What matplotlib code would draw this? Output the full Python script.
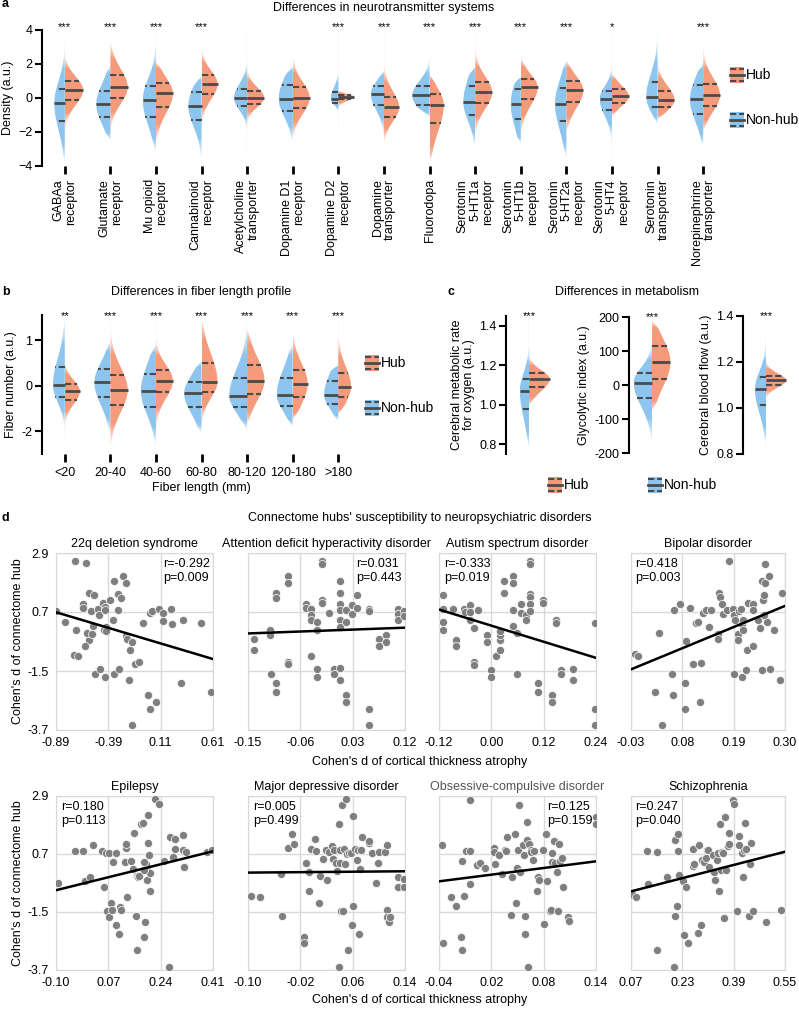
import numpy as np
import matplotlib
matplotlib.use('Agg')
import matplotlib.pyplot as plt
from matplotlib.patches import Polygon, Rectangle
from matplotlib.colors import to_rgb

plt.rcParams['font.family'] = ['Liberation Sans', 'DejaVu Sans']
plt.rcParams['font.size'] = 9

W, H = 799, 1010
BLUE = '#8dc5ee'
ORANGE = '#f59a7b'
LINE = '#4a4a4a'
DASH = (0, (3, 1.4))

# ---- panel a: neurotransmitter systems, [lo, q1, median, q3, hi, half width]
nt_labels = ['GABAa\nreceptor', 'Glutamate\nreceptor', 'Mu opioid\nreceptor',
             'Cannabinoid\nreceptor', 'Acetylcholine\ntransporter', 'Dopamine D1\nreceptor',
             'Dopamine D2\nreceptor', 'Dopamine\ntransporter', 'Fluorodopa',
             'Serotonin\n5-HT1a\nreceptor', 'Serotonin\n5-HT1b\nreceptor',
             'Serotonin\n5-HT2a\nreceptor', 'Serotonin\n5-HT4\nreceptor',
             'Serotonin\ntransporter', 'Norepinephrine\ntransporter']
nt_stars = ['***', '***', '***', '***', '', '', '***', '***', '***', '***', '***', '***', '*', '', '***']
nt_nonhub = [[-4.0, -1.35, -0.31, 0.55, 3.5, 0.23],
             [-2.5, -1.14, -0.37, 0.43, 1.9, 0.31],
             [-3.25, -1.10, -0.12, 0.71, 3.9, 0.29],
             [-4.0, -1.29, -0.47, 0.33, 1.3, 0.29],
             [-3.45, -0.47, 0.0, 0.55, 4.0, 0.29],
             [-2.67, -0.76, -0.04, 0.78, 1.84, 0.31],
             [-1.7, -0.27, -0.06, 0.37, 4.0, 0.17],
             [-2.5, -0.39, 0.24, 0.71, 1.65, 0.29],
             [-1.1, -0.41, 0.16, 0.71, 4.0, 0.38],
             [-2.96, -0.98, -0.22, 0.71, 1.84, 0.26],
             [-2.67, -1.25, -0.33, 0.51, 1.25, 0.22],
             [-3.55, -1.35, -0.33, 0.57, 2.24, 0.25],
             [-3.65, -0.71, -0.06, 0.43, 4.0, 0.27],
             [-1.6, -0.51, 0.06, 0.96, 4.0, 0.25],
             [-2.86, -0.94, -0.08, 0.75, 2.04, 0.29]]
nt_hub = [[-2.5, -0.12, 0.47, 1.0, 2.6, 0.40],
          [-2.5, -0.02, 0.63, 1.35, 3.5, 0.38],
          [-2.7, -0.51, 0.27, 0.9, 2.2, 0.37],
          [-1.9, 0.22, 0.82, 1.35, 3.2, 0.35],
          [-1.9, -0.35, 0.02, 0.43, 1.84, 0.37],
          [-2.5, -0.61, 0.02, 0.63, 2.6, 0.37],
          [-0.7, -0.08, 0.08, 0.18, 1.16, 0.34],
          [-2.9, -1.10, -0.55, 0.08, 3.8, 0.33],
          [-3.85, -1.45, -0.39, 0.24, 1.45, 0.31],
          [-2.5, -0.31, 0.33, 0.96, 3.9, 0.37],
          [-2.27, -0.08, 0.63, 1.14, 2.5, 0.37],
          [-2.08, -0.24, 0.45, 1.0, 2.24, 0.37],
          [-1.1, -0.27, 0.10, 0.51, 1.45, 0.37],
          [-1.3, -0.53, -0.12, 0.43, 2.5, 0.37],
          [-2.08, -0.47, 0.16, 0.84, 3.2, 0.37]]

# ---- panel b: fiber length profile
fl_labels = ['<20', '20-40', '40-60', '60-80', '80-120', '120-180', '>180']
fl_stars = ['**', '***', '***', '***', '***', '***', '***']
fl_nonhub = [[-1.13, -0.24, 0.01, 0.40, 1.53, 0.26],
             [-1.06, -0.26, 0.07, 0.36, 0.99, 0.35],
             [-1.35, -0.46, -0.12, 0.26, 0.91, 0.33],
             [-1.05, -0.46, -0.17, 0.09, 0.55, 0.38],
             [-1.0, -0.47, -0.22, 0.17, 1.53, 0.39],
             [-0.92, -0.44, -0.20, 0.17, 0.91, 0.35],
             [-0.78, -0.40, -0.20, 0.11, 0.45, 0.31]]
fl_hub = [[-1.51, -0.31, -0.12, 0.04, 0.77, 0.33],
          [-1.42, -0.42, -0.09, 0.24, 1.53, 0.38],
          [-1.06, -0.15, 0.11, 0.34, 1.53, 0.37],
          [-1.06, -0.15, 0.09, 0.49, 1.53, 0.35],
          [-0.91, -0.18, 0.11, 0.45, 1.28, 0.38],
          [-0.77, -0.26, 0.04, 0.34, 1.53, 0.33],
          [-0.66, -0.26, -0.02, 0.27, 1.53, 0.28]]

# ---- panel c: metabolism
met_labels = ['Cerebral metabolic rate\nfor oxygen (a.u.)', 'Glycolytic index (a.u.)',
              'Cerebral blood flow (a.u.)']
met_nonhub = [[0.77, 0.98, 1.07, 1.13, 1.43, 0.20],
              [-171, -39, 7, 36, 151, 0.40],
              [0.83, 1.012, 1.081, 1.133, 1.33, 0.24]]
met_hub = [[0.99, 1.09, 1.13, 1.16, 1.29, 0.45],
           [-78, 19, 67, 114, 192, 0.40],
           [0.99, 1.10, 1.12, 1.14, 1.24, 0.44]]
met_ylim = [(0.75, 1.45), (-200, 200), (0.8, 1.4)]
met_yticks = [[0.8, 1.0, 1.2, 1.4], [-200, -100, 0, 100, 200], [0.8, 1.0, 1.2, 1.4]]

# ---- panel d: disorders, (atrophy d, hub d) pairs
dis_names = ['22q deletion syndrome', 'Attention deficit hyperactivity disorder',
             'Autism spectrum disorder', 'Bipolar disorder', 'Epilepsy',
             'Major depressive disorder', 'Obsessive-compulsive disorder', 'Schizophrenia']
dis_r = ['-0.292', '0.031', '-0.333', '0.418', '0.180', '0.005', '0.125', '0.247']
dis_p = ['0.009', '0.443', '0.019', '0.003', '0.113', '0.499', '0.159', '0.040']
dis_text_right = [True, True, False, False, False, False, True, False]
dis_xticks = [[-0.89, -0.39, 0.11, 0.61], [-0.15, -0.06, 0.03, 0.12],
              [-0.12, 0.00, 0.12, 0.24], [-0.03, 0.08, 0.19, 0.30],
              [-0.10, 0.07, 0.24, 0.41], [-0.10, -0.02, 0.06, 0.14],
              [-0.04, 0.02, 0.08, 0.14], [0.07, 0.23, 0.39, 0.55]]
hub_yticks = [-3.7, -1.5, 0.7, 2.9]

pts_22q = [(-0.89, 0.74), (-0.80, 0.32), (-0.70, 0.02), (-0.72, -0.89), (-0.68, -0.94), (-0.63, 1.01),
           (-0.63, 0.85), (-0.60, 2.52), (-0.71, 2.62), (-0.57, 1.42), (-0.53, 1.32), (-0.56, 0.74),
           (-0.57, -0.35), (-0.59, -0.08), (-0.61, -0.57), (-0.55, -0.13), (-0.54, 0.17), (-0.49, 0.82),
           (-0.48, 0.58), (-0.44, 1.03), (-0.42, 0.89), (-0.42, 0.76), (-0.41, 0.14), (-0.43, 0.04),
           (-0.41, 0.00), (-0.37, 1.13), (-0.35, 0.42), (-0.34, 1.85), (-0.30, 1.38), (-0.27, 1.23),
           (-0.30, 0.76), (-0.25, 2.06), (-0.22, 1.78), (-0.22, -0.18), (-0.21, -0.29), (-0.16, -0.40),
           (-0.18, -0.70), (-0.14, -1.24), (-0.10, -1.18), (-0.19, -1.85), (-0.52, -1.62), (-0.47, -1.44),
           (-0.42, -1.71), (-0.34, -1.62), (-0.29, -1.43), (-0.06, 0.29), (-0.01, -2.40), (0.01, -2.91),
           (0.01, 0.66), (0.03, 0.74), (0.07, -2.64), (0.09, 0.81), (0.13, 0.66), (0.13, 0.38),
           (0.21, 0.80), (0.22, 0.26), (0.32, 0.39), (0.30, -1.96), (0.50, 0.29), (0.59, -2.30),
           (-0.16, -3.53)]
pts_adhd = [(-0.140, -0.31), (-0.140, -0.72), (-0.112, 0.02), (-0.112, -0.17), (-0.111, -1.62),
            (-0.102, -1.96), (-0.102, -2.29), (-0.102, 1.40), (-0.102, 1.23), (-0.081, 2.06),
            (-0.081, 1.78), (-0.081, -1.15), (-0.081, -1.25), (-0.051, 1.01), (-0.051, 0.86),
            (-0.042, 0.80), (-0.042, 0.58), (-0.042, 0.39), (-0.041, -0.93), (-0.031, 0.33),
            (-0.031, 0.02), (-0.031, -1.43), (-0.031, -1.71), (-0.022, 2.62), (-0.022, 2.49),
            (-0.022, 1.13), (-0.022, 1.03), (-0.011, 0.68), (-0.002, -1.43), (-0.002, -1.62),
            (0.008, 1.84), (0.008, 1.42), (0.008, 1.01), (0.008, 0.76), (0.008, 0.39), (0.008, 0.14),
            (0.008, -1.40), (0.008, -1.83), (0.018, 0.79), (0.018, 0.33), (0.018, -2.39), (0.018, -2.64),
            (0.028, 0.97), (0.028, 0.64), (0.038, 1.32), (0.038, 0.85), (0.058, 0.80), (0.058, 0.74),
            (0.058, -2.91), (0.058, -3.53), (0.076, -0.31), (0.076, -0.57), (0.088, -0.17),
            (0.088, -0.41), (0.108, 0.80), (0.108, 0.64), (0.108, 0.39), (0.118, 0.75), (0.118, 0.55)]
pts_asd = [(-0.111, 1.32), (-0.111, 0.82), (-0.111, 0.33), (-0.111, 0.02), (-0.089, 0.82), (-0.080, -0.33),
           (-0.080, -0.57), (-0.063, 0.82), (-0.061, 0.70), (-0.050, 0.97), (-0.050, 0.70), (-0.050, 0.39),
           (-0.040, 0.11), (-0.040, -1.15), (-0.040, -1.28), (-0.030, 0.76), (-0.010, -0.17),
           (-0.010, -0.41), (0.000, -1.46), (0.000, -1.71), (0.010, -0.93), (0.019, -0.72), (0.019, -0.33),
           (0.019, -0.17), (0.019, -0.02), (0.029, 1.85), (0.029, 1.42), (0.049, 2.06), (0.049, 1.78),
           (0.049, 0.76), (0.050, 0.17), (0.059, -0.08), (0.059, -1.62), (0.069, 1.01), (0.069, 0.66),
           (0.079, 0.58), (0.079, 0.42), (0.088, 2.62), (0.088, 2.49), (0.088, 1.38), (0.088, 1.26),
           (0.088, 1.01), (0.088, 0.74), (0.119, 1.16), (0.119, 1.03), (0.148, 0.42), (0.148, 0.29),
           (0.159, -1.46), (0.159, -1.62), (0.108, -1.96), (0.108, -2.29), (0.140, -2.39), (0.140, -2.64),
           (0.188, -1.43), (0.188, -1.83), (0.238, 0.29), (0.238, -2.91), (0.238, -3.53)]
pts_bd = [(-0.021, -0.88), (-0.015, -0.94), (0.029, -0.07), (0.057, -1.62), (0.022, -2.30), (0.059, -2.39),
          (0.063, 0.76), (0.075, 1.01), (0.085, -1.96), (0.085, -2.91), (0.087, -0.39), (0.096, 0.86),
          (0.102, -1.25), (0.109, 0.29), (0.114, 0.33), (0.119, -1.19), (0.117, -2.64), (0.124, 0.66),
          (0.130, 0.79), (0.137, 0.14), (0.141, 0.76), (0.156, -0.13), (0.156, -0.31), (0.158, 1.42),
          (0.161, 1.26), (0.165, 1.01), (0.167, 0.64), (0.175, 0.76), (0.181, 2.62), (0.188, 0.82),
          (0.190, -1.62), (0.190, 0.58), (0.192, 0.42), (0.199, -0.13), (0.199, -0.35), (0.201, 0.74),
          (0.206, 0.82), (0.208, -1.71), (0.208, 0.27), (0.209, 0.42), (0.209, 0.02), (0.216, -1.46),
          (0.219, -0.72), (0.220, 1.03), (0.231, -0.57), (0.232, 1.01), (0.232, 0.76), (0.243, 0.39),
          (0.247, 0.11), (0.250, -1.46), (0.250, 1.87), (0.252, 1.13), (0.255, 1.32), (0.258, 1.78),
          (0.258, 2.49), (0.262, 0.33), (0.266, 2.06), (0.267, -1.43), (0.277, 0.02), (0.289, -1.83),
          (0.294, 1.42), (0.037, -3.53), (0.254, 0.58)]
pts_ep = [(-0.094, -0.41), (-0.039, 0.83), (-0.012, 0.83), (-0.006, -0.31), (0.010, -0.16), (0.021, 1.04),
          (0.049, 0.81), (0.055, -0.56), (0.063, 0.73), (0.071, 0.73), (0.066, -1.46), (0.071, -1.68),
          (0.079, -1.17), (0.082, -1.42), (0.085, 0.41), (0.094, 0.73), (0.108, -1.30), (0.112, -1.42),
          (0.096, -1.99), (0.106, -2.33), (0.123, 0.41), (0.126, 0.91), (0.127, 1.08), (0.132, -0.94),
          (0.143, 0.45), (0.154, 1.48), (0.151, 0.12), (0.159, -1.65), (0.163, -0.13), (0.165, -0.18),
          (0.170, -0.13), (0.176, 1.84), (0.183, 1.89), (0.187, -2.44), (0.189, -1.87), (0.193, 0.32),
          (0.195, 0.09), (0.196, -0.29), (0.198, 2.18), (0.200, 1.13), (0.202, 0.66), (0.204, -0.69),
          (0.206, -0.03), (0.223, 2.77), (0.233, 2.60), (0.251, 0.45), (0.270, 1.36), (0.279, 0.57),
          (0.286, 1.27), (0.286, 0.88), (0.314, 1.42), (0.314, 0.85), (0.316, 0.19), (0.322, 0.79),
          (0.389, 0.79), (0.406, 0.85), (0.163, -2.94), (0.266, -3.60), (0.185, 0.09), (0.187, 0.41)]
pts_mdd = [(-0.095, -0.89), (-0.081, -0.94), (-0.050, -0.06), (-0.048, -1.64), (-0.039, 0.91),
           (-0.032, 1.45), (-0.029, 1.08), (-0.015, -2.44), (-0.015, -2.66), (-0.011, 0.35),
           (-0.007, -0.69), (-0.006, 0.03), (-0.004, 0.88), (0.003, 1.26), (0.004, 0.83), (0.009, -1.17),
           (0.010, -0.13), (0.014, 0.50), (0.019, 0.85), (0.021, -0.29), (0.024, 0.76), (0.028, 1.00),
           (0.030, 0.50), (0.031, 0.85), (0.034, 0.37), (0.036, 0.07), (0.039, 1.83), (0.040, 0.85),
           (0.041, 0.37), (0.042, -1.45), (0.043, 2.56), (0.045, -1.45), (0.046, 0.88), (0.049, 0.31),
           (0.050, 2.77), (0.052, 0.70), (0.053, -2.94), (0.055, 0.75), (0.057, 0.73), (0.059, -1.99),
           (0.060, -1.27), (0.061, 2.14), (0.063, 0.88), (0.066, 0.47), (0.068, 0.85), (0.069, -2.33),
           (0.071, 0.12), (0.073, 0.85), (0.075, 1.36), (0.085, 1.10), (0.085, 1.21), (0.089, 0.73),
           (0.096, -0.41), (0.098, 0.37), (0.101, 0.79), (0.110, 0.79), (0.112, 1.04), (0.113, -1.42),
           (0.113, -1.68), (0.115, -1.87), (0.117, -1.68), (0.129, -0.16), (0.129, -0.56), (0.039, -3.60),
           (0.138, -0.25), (0.138, -0.55)]
pts_ocd = [(-0.036, 1.06), (-0.035, -2.66), (-0.026, -0.95), (-0.021, -1.27), (-0.015, -2.43),
           (-0.014, -2.96), (-0.014, 0.42), (-0.011, -0.90), (-0.009, 0.80), (-0.005, -0.42),
           (-0.004, 0.80), (-0.004, 2.73), (0.004, 0.27), (0.007, 0.34), (0.013, 0.18), (0.023, 0.93),
           (0.023, 0.78), (0.024, 0.31), (0.029, 0.67), (0.032, -0.04), (0.036, 0.86), (0.037, 0.80),
           (0.038, 1.34), (0.042, -1.61), (0.044, -0.17), (0.047, 1.44), (0.048, -1.17), (0.049, 0.15),
           (0.051, 0.84), (0.052, 2.54), (0.053, 0.02), (0.056, 1.03), (0.057, 0.65), (0.059, -1.65),
           (0.059, -2.33), (0.061, 1.22), (0.061, 1.91), (0.062, -3.59), (0.063, 1.09), (0.065, 0.86),
           (0.065, 0.78), (0.068, 0.49), (0.069, 0.80), (0.072, -0.70), (0.074, -0.17), (0.075, -0.29),
           (0.079, 0.86), (0.080, -1.95), (0.083, 1.47), (0.084, -0.32), (0.087, -1.45), (0.088, -1.43),
           (0.090, 0.74), (0.090, 0.40), (0.092, 1.19), (0.093, 0.34), (0.095, 0.02), (0.096, -1.45),
           (0.098, 1.09), (0.099, 0.44), (0.101, 0.56), (0.102, -0.57), (0.108, -1.70), (0.109, -1.83),
           (0.140, 2.10), (0.140, 1.82)]
pts_scz = [(0.076, -0.86), (0.086, -0.95), (0.119, 0.81), (0.122, -0.42), (0.150, 0.78), (0.150, -2.96),
           (0.181, -0.17), (0.207, 1.24), (0.217, 1.44), (0.218, 0.80), (0.212, -1.27), (0.207, -1.64),
           (0.204, -3.59), (0.220, -0.11), (0.231, -0.33), (0.235, -2.37), (0.241, -0.57), (0.248, -2.66),
           (0.262, 0.90), (0.262, 0.23), (0.266, 0.31), (0.279, -2.31), (0.282, 1.06), (0.287, -1.99),
           (0.292, 0.46), (0.297, 0.40), (0.303, 0.56), (0.307, 0.84), (0.310, 0.84), (0.313, 0.21),
           (0.325, 0.65), (0.328, 0.02), (0.331, -0.29), (0.338, 0.46), (0.341, 0.74), (0.344, -0.70),
           (0.348, 1.82), (0.351, 0.08), (0.354, 0.78), (0.358, 0.74), (0.360, -1.74), (0.363, 2.10),
           (0.365, 0.11), (0.372, 0.99), (0.375, 1.49), (0.377, 1.09), (0.387, 2.73), (0.392, 2.60),
           (0.400, -1.46), (0.408, 1.40), (0.416, 0.74), (0.418, -0.17), (0.421, 0.84), (0.424, 1.87),
           (0.439, -1.64), (0.441, 0.36), (0.441, 0.31), (0.444, 1.12), (0.451, -1.46), (0.492, -1.87),
           (0.537, -1.43), (0.408, 1.03), (0.428, 0.88)]
dis_points = [pts_22q, pts_adhd, pts_asd, pts_bd, pts_ep, pts_mdd, pts_ocd, pts_scz]


def box(left, top, right, bottom):
    # pixel box (from top-left) -> figure fraction rect
    return [left / W, 1 - bottom / H, (right - left) / W, (bottom - top) / H]


def half_violin(ax, x, stats, side, color):
    lo, q1, med, q3, hi, w = stats
    ys = np.linspace(lo, hi, 300)
    sd = np.where(ys < med, med - q1, q3 - med) / 0.6745
    wid = w * np.exp(-0.5 * ((ys - med) / sd) ** 2)
    edge = np.clip(np.minimum(ys - lo, hi - ys) / (0.12 * (hi - lo)), 0, 1)
    wid = np.maximum(wid * np.sin(edge * np.pi / 2), 0.008)
    verts = np.column_stack([np.r_[x + side * wid, x, x], np.r_[ys, hi, lo]])
    patch = Polygon(verts, closed=True, transform=ax.transData)
    img = np.zeros((len(ys), 1, 4))
    img[..., :3] = to_rgb(color)
    img[:, 0, 3] = np.clip(wid / (0.3 * w), 0, 1) ** 0.8
    x0, x1 = sorted([x, x + side * w])
    im = ax.imshow(img, extent=[x0, x1, lo, hi], origin='lower', aspect='auto',
                   interpolation='nearest', zorder=1)
    im.set_clip_path(patch)
    for q, ls, lw in [(q1, DASH, 1.5), (med, '-', 2.0), (q3, DASH, 1.5)]:
        wq = np.interp(q, ys, wid)
        ax.plot([x, x + side * wq], [q, q], color=LINE, ls=ls, lw=lw,
                solid_capstyle='butt', dash_capstyle='butt', zorder=3)


def violin_axes(ax, nonhub, hub, stars, ylim, star_y):
    for i in range(len(nonhub)):
        half_violin(ax, i, nonhub[i], -1, BLUE)
        half_violin(ax, i, hub[i], 1, ORANGE)
        ax.text(i, star_y, stars[i], ha='center', va='center', fontsize=8, clip_on=False)
    ax.set_xlim(-0.5, len(nonhub) - 0.5)
    ax.set_ylim(*ylim)
    for s in ['top', 'right', 'bottom']:
        ax.spines[s].set_visible(False)
    ax.spines['left'].set_linewidth(1.5)
    ax.tick_params(axis='y', width=1.5, length=5, labelsize=9, pad=2)
    ax.tick_params(axis='x', width=2, length=6, labelsize=9)


def swatch(fig, left, top, color, label):
    lax = fig.add_axes(box(left, top, left + 14, top + 16))
    lax.add_patch(Rectangle((0, 0), 1, 1, color=color))
    lax.plot([0, 1], [0.5, 0.5], color=LINE, lw=2, clip_on=False)
    for yy in [0.9, 0.1]:
        lax.plot([0, 1], [yy, yy], color=LINE, lw=1.5, ls=DASH, clip_on=False)
    lax.set_xlim(0, 1)
    lax.set_ylim(0, 1)
    lax.axis('off')
    fig.text((left + 16) / W, 1 - (top + 8) / H, label, fontsize=10, va='center')


fig = plt.figure(figsize=(W / 100, H / 100), dpi=100)

# panel a
ax = fig.add_axes(box(42, 30, 726, 166))
violin_axes(ax, nt_nonhub, nt_hub, nt_stars, (-4, 4), 4.2)
ax.set_yticks([-4, -2, 0, 2, 4])
ax.set_xticks(range(len(nt_labels)))
ax.set_xticklabels(nt_labels, rotation=90, ha='center', va='top', multialignment='right',
                   linespacing=1.05)
ax.set_ylabel('Density (a.u.)', fontsize=9, labelpad=3)
fig.text(384 / W, 1 - 8 / H, 'Differences in neurotransmitter systems', ha='center', va='center')
fig.text(2 / W, 1 - 4 / H, 'a', weight='bold', va='center')
swatch(fig, 730, 67, ORANGE, 'Hub')
swatch(fig, 730, 112, BLUE, 'Non-hub')

# panel b
ax = fig.add_axes(box(42, 315, 361, 454))
violin_axes(ax, fl_nonhub, fl_hub, fl_stars, (-1.5, 1.55), 1.53)
ax.set_yticks([1, 0, -1])
ax.set_yticklabels(['1', '0', '-2'])
ax.set_xticks(range(len(fl_labels)))
ax.set_xticklabels(fl_labels)
ax.set_xlabel('Fiber length (mm)', fontsize=9, labelpad=2)
ax.set_ylabel('Fiber number (a.u.)', fontsize=9, labelpad=3)
fig.text(201 / W, 1 - 292 / H, 'Differences in fiber length profile', ha='center', va='center')
fig.text(2 / W, 1 - 292 / H, 'b', weight='bold', va='center')
swatch(fig, 365, 355, ORANGE, 'Hub')
swatch(fig, 365, 400, BLUE, 'Non-hub')

# panel c
c_left = [506, 629, 743]
for k in range(3):
    top, bottom = (317, 453) if k == 1 else (316, 454)
    ax = fig.add_axes(box(c_left[k], top, c_left[k] + 46, bottom))
    lo_y, hi_y = met_ylim[k]
    violin_axes(ax, [met_nonhub[k]], [met_hub[k]], ['***'], met_ylim[k], hi_y)
    ax.set_yticks(met_yticks[k])
    if k == 1:
        ax.set_yticklabels([str(v) for v in met_yticks[k]])
    else:
        ax.set_yticklabels([f'{v:.1f}' for v in met_yticks[k]])
    ax.set_xticks([])
    ax.set_ylabel(met_labels[k], fontsize=9, labelpad=3, linespacing=1.0)
fig.text(627 / W, 1 - 292 / H, 'Differences in metabolism', ha='center', va='center')
fig.text(448 / W, 1 - 292 / H, 'c', weight='bold', va='center')
swatch(fig, 548, 477, ORANGE, 'Hub')
swatch(fig, 648, 477, BLUE, 'Non-hub')

# panel d
cols = [(56, 213), (248, 405), (439, 596), (631, 785)]
rows = [(553, 730), (796, 970)]
fig.text(420 / W, 1 - 518 / H, "Connectome hubs' susceptibility to neuropsychiatric disorders",
         ha='center', va='center')
fig.text(2 / W, 1 - 518 / H, 'd', weight='bold', va='center')
for i, name in enumerate(dis_names):
    r, c = divmod(i, 4)
    ax = fig.add_axes(box(cols[c][0], rows[r][0], cols[c][1], rows[r][1]))
    pts = np.array(dis_points[i])
    xt = dis_xticks[i]
    ax.scatter(pts[:, 0], pts[:, 1], s=34, color='#7f7f7f', edgecolor='white', linewidth=0.5, zorder=3)
    k, b0 = np.polyfit(pts[:, 0], pts[:, 1], 1)
    xx = np.array([xt[0], xt[-1]])
    ax.plot(xx, k * xx + b0, color='black', lw=1.8, zorder=4)
    ax.set_xlim(xt[0], xt[-1])
    ax.set_ylim(hub_yticks[0], hub_yticks[-1])
    ax.set_xticks(xt)
    ax.set_xticklabels([f'{v:.2f}' for v in xt])
    ax.set_yticks(hub_yticks)
    if c == 0:
        ax.set_yticklabels([f'{v:.1f}' for v in hub_yticks])
        ax.set_ylabel("Cohen's d of connectome hub", fontsize=9, labelpad=3)
    else:
        ax.set_yticklabels([])
    ax.grid(True, color='#d9d9d9', lw=1)
    ax.set_axisbelow(True)
    for s in ax.spines.values():
        s.set_color('#d9d9d9')
    ax.tick_params(length=0, labelsize=9, pad=5)
    ax.set_title(name, fontsize=9, pad=4, color='#555555' if i == 6 else 'black')
    txt = f'r={dis_r[i]}\np={dis_p[i]}'
    if dis_text_right[i]:
        ax.text(0.98, 0.97, txt, transform=ax.transAxes, ha='right', va='top',
                multialignment='left', fontsize=9, zorder=5)
    else:
        ax.text(0.03, 0.97, txt, transform=ax.transAxes, ha='left', va='top', fontsize=9, zorder=5)
for yy in [762, 1000]:
    fig.text(420 / W, 1 - yy / H, "Cohen's d of cortical thickness atrophy", ha='center', va='center')

fig.savefig('out.png', dpi=100)
